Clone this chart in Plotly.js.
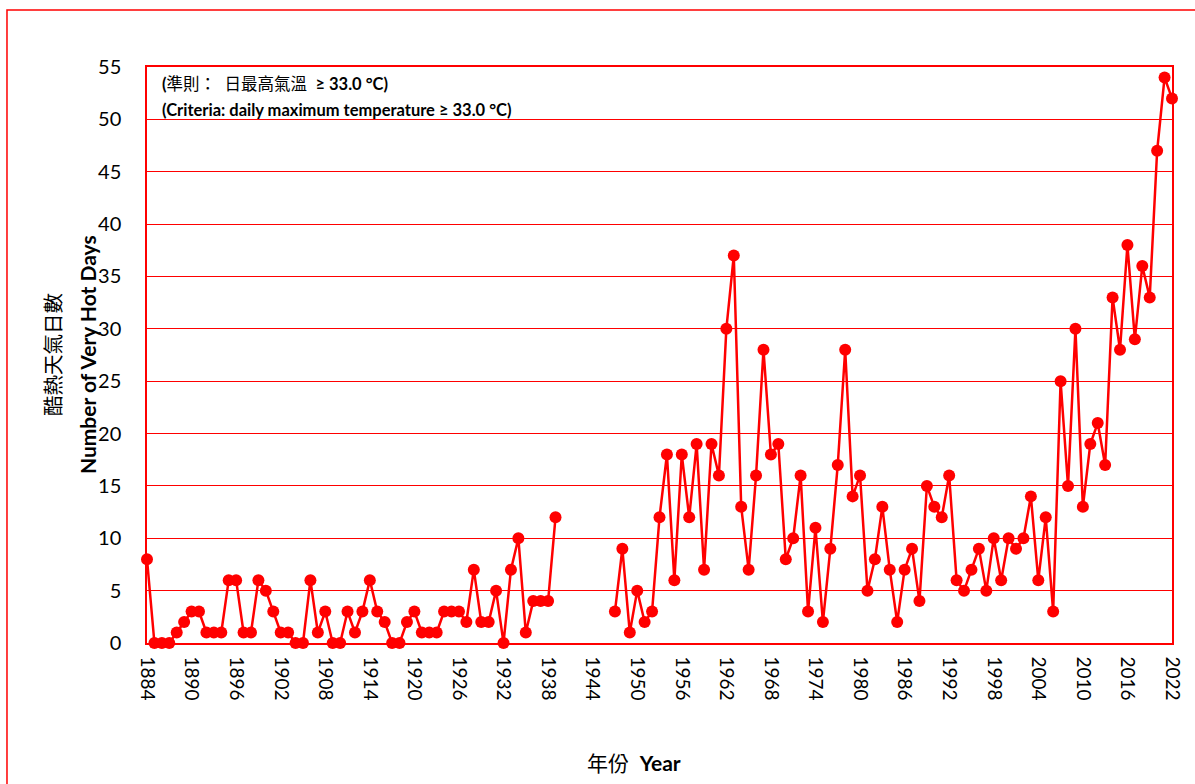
<!DOCTYPE html>
<html>
<head>
<meta charset="utf-8">
<script src="https://cdn.plot.ly/plotly-3.0.1.min.js"></script>
<style>
  body { margin: 0; background: #fff; }
  #chart { width: 1195px; height: 784px; }
</style>
</head>
<body>
<div id="chart"></div>
<script>
// years 1884-2022 (no records 1940-1946)
var years = [1884,1885,1886,1887,1888,1889,1890,1891,1892,1893,1894,1895,1896,1897,1898,1899,
  1900,1901,1902,1903,1904,1905,1906,1907,1908,1909,1910,1911,1912,1913,1914,1915,1916,1917,1918,1919,
  1920,1921,1922,1923,1924,1925,1926,1927,1928,1929,1930,1931,1932,1933,1934,1935,1936,1937,1938,1939,
  1940,1941,1942,1943,1944,1945,1946,1947,1948,1949,1950,1951,1952,1953,1954,1955,1956,1957,1958,1959,
  1960,1961,1962,1963,1964,1965,1966,1967,1968,1969,1970,1971,1972,1973,1974,1975,1976,1977,1978,1979,
  1980,1981,1982,1983,1984,1985,1986,1987,1988,1989,1990,1991,1992,1993,1994,1995,1996,1997,1998,1999,
  2000,2001,2002,2003,2004,2005,2006,2007,2008,2009,2010,2011,2012,2013,2014,2015,2016,2017,2018,2019,
  2020,2021,2022];

// number of very hot days
var hotDays = [8,0,0,0,1,2,3,3,1,1,1,6,6,1,1,6,
  5,3,1,1,0,0,6,1,3,0,0,3,1,3,6,3,2,0,0,2,
  3,1,1,1,3,3,3,2,7,2,2,5,0,7,10,1,4,4,4,12,
  null,null,null,null,null,null,null,3,9,1,5,2,3,12,18,6,18,12,19,7,
  19,16,30,37,13,7,16,28,18,19,8,10,16,3,11,2,9,17,28,14,
  16,5,8,13,7,2,7,9,4,15,13,12,16,6,5,7,9,5,10,6,
  10,9,10,14,6,12,3,25,15,30,13,19,21,17,33,28,38,29,36,33,
  47,54,52];

var xTicks = [1884,1890,1896,1902,1908,1914,1920,1926,1932,1938,1944,1950,1956,1962,1968,1974,
  1980,1986,1992,1998,2004,2010,2016,2022];

var red = "#ff0000";
var fontFam = "Lato, 'Noto Sans CJK TC', sans-serif";

var trace = {
  x: years,
  y: hotDays,
  type: "scatter",
  mode: "lines+markers",
  connectgaps: false,
  cliponaxis: false,
  line: {color: red, width: 2.5},
  marker: {color: red, size: 12},
  hoverinfo: "x+y"
};

var layout = {
  width: 1195,
  height: 784,
  margin: {l: 147, r: 23, t: 67, b: 141},
  paper_bgcolor: "#fff",
  plot_bgcolor: "#fff",
  showlegend: false,
  font: {family: fontFam, color: "#000", size: 19},
  xaxis: {
    range: [1884, 2022],
    tickmode: "array",
    tickvals: xTicks,
    ticktext: xTicks.map(String),
    tickangle: 90,
    ticks: "",
    ticklabelstandoff: 8,
    tickfont: {size: 19},
    showgrid: false,
    zeroline: false,
    showline: true,
    mirror: true,
    linecolor: red,
    linewidth: 1.5
  },
  yaxis: {
    range: [0, 55],
    dtick: 5,
    tick0: 0,
    ticks: "",
    ticklabelstandoff: 20,
    tickfont: {size: 20},
    showgrid: true,
    gridcolor: red,
    gridwidth: 1,
    zeroline: false,
    showline: true,
    mirror: true,
    linecolor: red,
    linewidth: 1.5
  },
  shapes: [{
    type: "rect", xref: "paper", yref: "paper",
    x0: -0.1366, x1: 1.1, y0: -0.4, y1: 1.099,
    line: {color: red, width: 1.5}, layer: "below"
  }],
  annotations: [
    {xref: "paper", yref: "paper", x: -0.0917, y: 0.5, textangle: -90,
     xanchor: "center", yanchor: "middle", showarrow: false,
     text: "酷熱天氣日數", font: {size: 20.5}},
    {xref: "paper", yref: "paper", x: -0.0585, y: 0.5, textangle: -90,
     xanchor: "center", yanchor: "middle", showarrow: false,
     text: "<b>Number of Very Hot Days</b>", font: {size: 21}},
    {xref: "paper", yref: "paper", x: 0.475, y: -0.2083,
     xanchor: "center", yanchor: "middle", showarrow: false,
     text: "年份  <b>Year</b>", font: {size: 21}},
    {xref: "paper", yref: "paper", x: 0.0127, y: 0.9705,
     xanchor: "left", yanchor: "middle", showarrow: false,
     text: "<b>(</b>準則：  日最高氣溫  <b>≥ 33.0 °C)</b>", font: {size: 16.5}},
    {xref: "paper", yref: "paper", x: 0.0127, y: 0.925,
     xanchor: "left", yanchor: "middle", showarrow: false,
     text: "<b>(Criteria: daily maximum temperature ≥ 33.0 °C)</b>", font: {size: 16.5}}
  ]
};

Plotly.newPlot("chart", [trace], layout, {displayModeBar: false});
</script>
</body>
</html>
